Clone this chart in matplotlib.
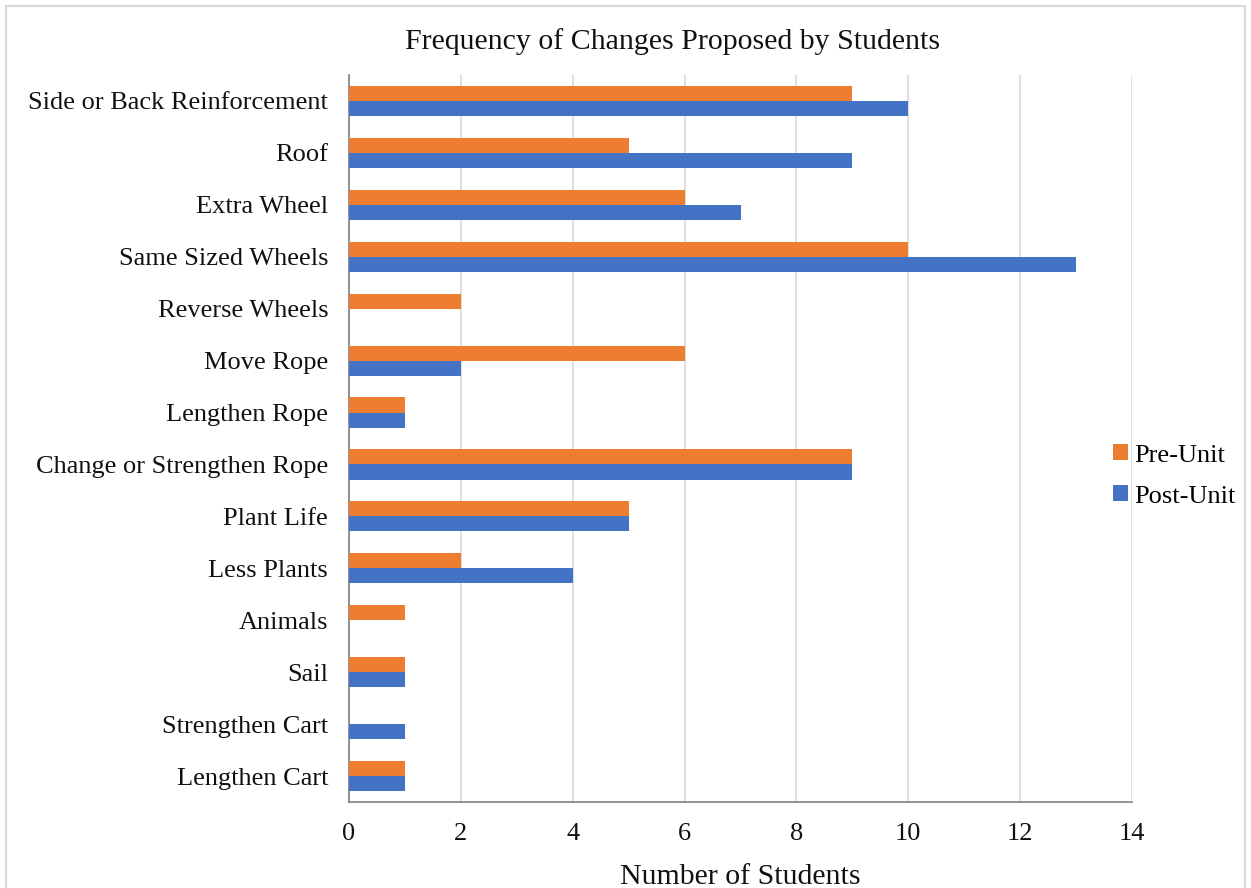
import numpy as np
import matplotlib.pyplot as plt
from matplotlib.patches import Rectangle

categories = ["Side or Back Reinforcement", "Roof", "Extra Wheel", "Same Sized Wheels",
              "Reverse Wheels", "Move Rope", "Lengthen Rope", "Change or Strengthen Rope",
              "Plant Life", "Less Plants", "Animals", "Sail", "Strengthen Cart", "Lengthen Cart"]
pre_unit = [9, 5, 6, 10, 2, 6, 1, 9, 5, 2, 1, 1, 0, 1]
post_unit = [10, 9, 7, 13, 0, 2, 1, 9, 5, 4, 0, 1, 1, 1]

plt.rcParams['font.family'] = ['Liberation Serif', 'DejaVu Serif']

fig = plt.figure(figsize=(12.51, 8.88), dpi=100)
ax = fig.add_axes([349/1251, 1-802/888, (1132-349)/1251, (802-75)/888])

y = np.arange(len(categories))[::-1]
h = 0.29
ax.barh(y + h/2, pre_unit, height=h, color='#ED7D31', label='Pre-Unit', zorder=3)
ax.barh(y - h/2, post_unit, height=h, color='#4472C4', label='Post-Unit', zorder=3)

ax.set_xlim(0, 14)
ax.set_ylim(-0.5, len(categories) - 0.5)
ax.set_xticks(np.arange(0, 15, 2))
ax.set_yticks(y)
ax.set_yticklabels(categories)
ax.tick_params(axis='both', length=0, labelsize=19, colors='#111111')
ax.tick_params(axis='x', pad=15)
ax.tick_params(axis='y', pad=15)
ax.grid(axis='x', color='#D9D9D9', lw=1.2, zorder=0)
for s in ['top', 'right']:
    ax.spines[s].set_visible(False)
for s in ['left', 'bottom']:
    ax.spines[s].set_color('#808080')
    ax.spines[s].set_linewidth(1.2)

ax.set_xlabel('Number of Students', fontsize=21.5, labelpad=14, color='#111111')
fig.text(0.538, 1-42/888, 'Frequency of Changes Proposed by Students', fontsize=21.5,
         ha='center', va='center', color='#111111')

fig.legend(loc='center left', bbox_to_anchor=(1113/1251, 1-476/888), frameon=False, fontsize=19,
           handlelength=0.55, handleheight=0.55, handletextpad=0.25, labelspacing=0.7,
           borderaxespad=0, borderpad=0)

fig.patches.append(Rectangle((6/1251, -0.1), (1245-6)/1251, 1.1 - 6/888, transform=fig.transFigure,
                             fill=False, edgecolor='#D9D9D9', lw=1.5))

fig.savefig('out.png', dpi=100)
